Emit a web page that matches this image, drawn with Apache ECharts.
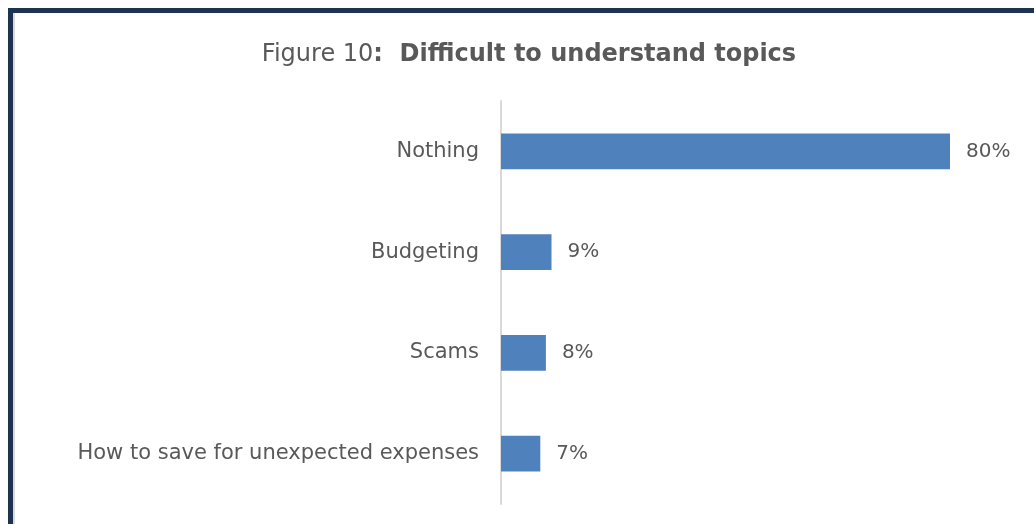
<!DOCTYPE html>
<html>
<head>
<meta charset="utf-8">
<style>
  html, body { margin: 0; padding: 0; background: #ffffff; }
  #chart { position: absolute; left: 0; top: 0; width: 1034px; height: 524px; }
  #frame {
    position: absolute; left: 8px; top: 8px; width: 1026px; height: 516px;
    box-sizing: border-box;
    border-left: 5px solid #1c3450; border-top: 5px solid #1c3450;
    box-shadow: inset 2px 0 0 #d9d9d9;
    pointer-events: none;
  }
</style>
<script src="https://cdn.jsdelivr.net/npm/echarts@6/dist/echarts.min.js"></script>
</head>
<body>
<div id="chart"></div>
<div id="frame"></div>
<script>
// Survey topics and share of respondents (%)
const categories = ['Nothing', 'Budgeting', 'Scams', 'How to save for unexpected expenses'];
const shares = [80, 9, 8, 7];

const FONT = '"DejaVu Sans", sans-serif';
const TEXT = '#595959';

const chart = echarts.init(document.getElementById('chart'), null, { renderer: 'canvas' });

chart.setOption({
  animation: false,
  backgroundColor: '#ffffff',
  title: {
    text: '{reg|Figure 10}{bold|:  Difficult to understand topics}',
    left: 524,
    textAlign: 'center',
    top: 38,
    textStyle: {
      fontWeight: 'normal',
      rich: {
        reg: { fontFamily: FONT, fontSize: 24, fontWeight: 'normal', color: TEXT },
        bold: { fontFamily: FONT, fontSize: 24, fontWeight: 'bold', color: TEXT }
      }
    }
  },
  grid: { left: 501, top: 101, width: 449, height: 403, containLabel: false },
  xAxis: {
    type: 'value', min: 0, max: 80,
    show: false
  },
  yAxis: {
    type: 'category',
    data: categories,
    inverse: true,
    axisLine: { show: true, lineStyle: { color: '#d9d9d9', width: 2 } },
    axisTick: { show: false },
    axisLabel: { margin: 22, fontFamily: FONT, fontSize: 21, color: TEXT }
  },
  series: [{
    type: 'bar',
    data: shares,
    barWidth: '35.5%',
    itemStyle: { color: '#4f81bd' },
    label: {
      show: true, position: 'right', distance: 16,
      formatter: '{c}%',
      fontFamily: FONT, fontSize: 20, color: TEXT
    }
  }]
});
</script>
</body>
</html>
